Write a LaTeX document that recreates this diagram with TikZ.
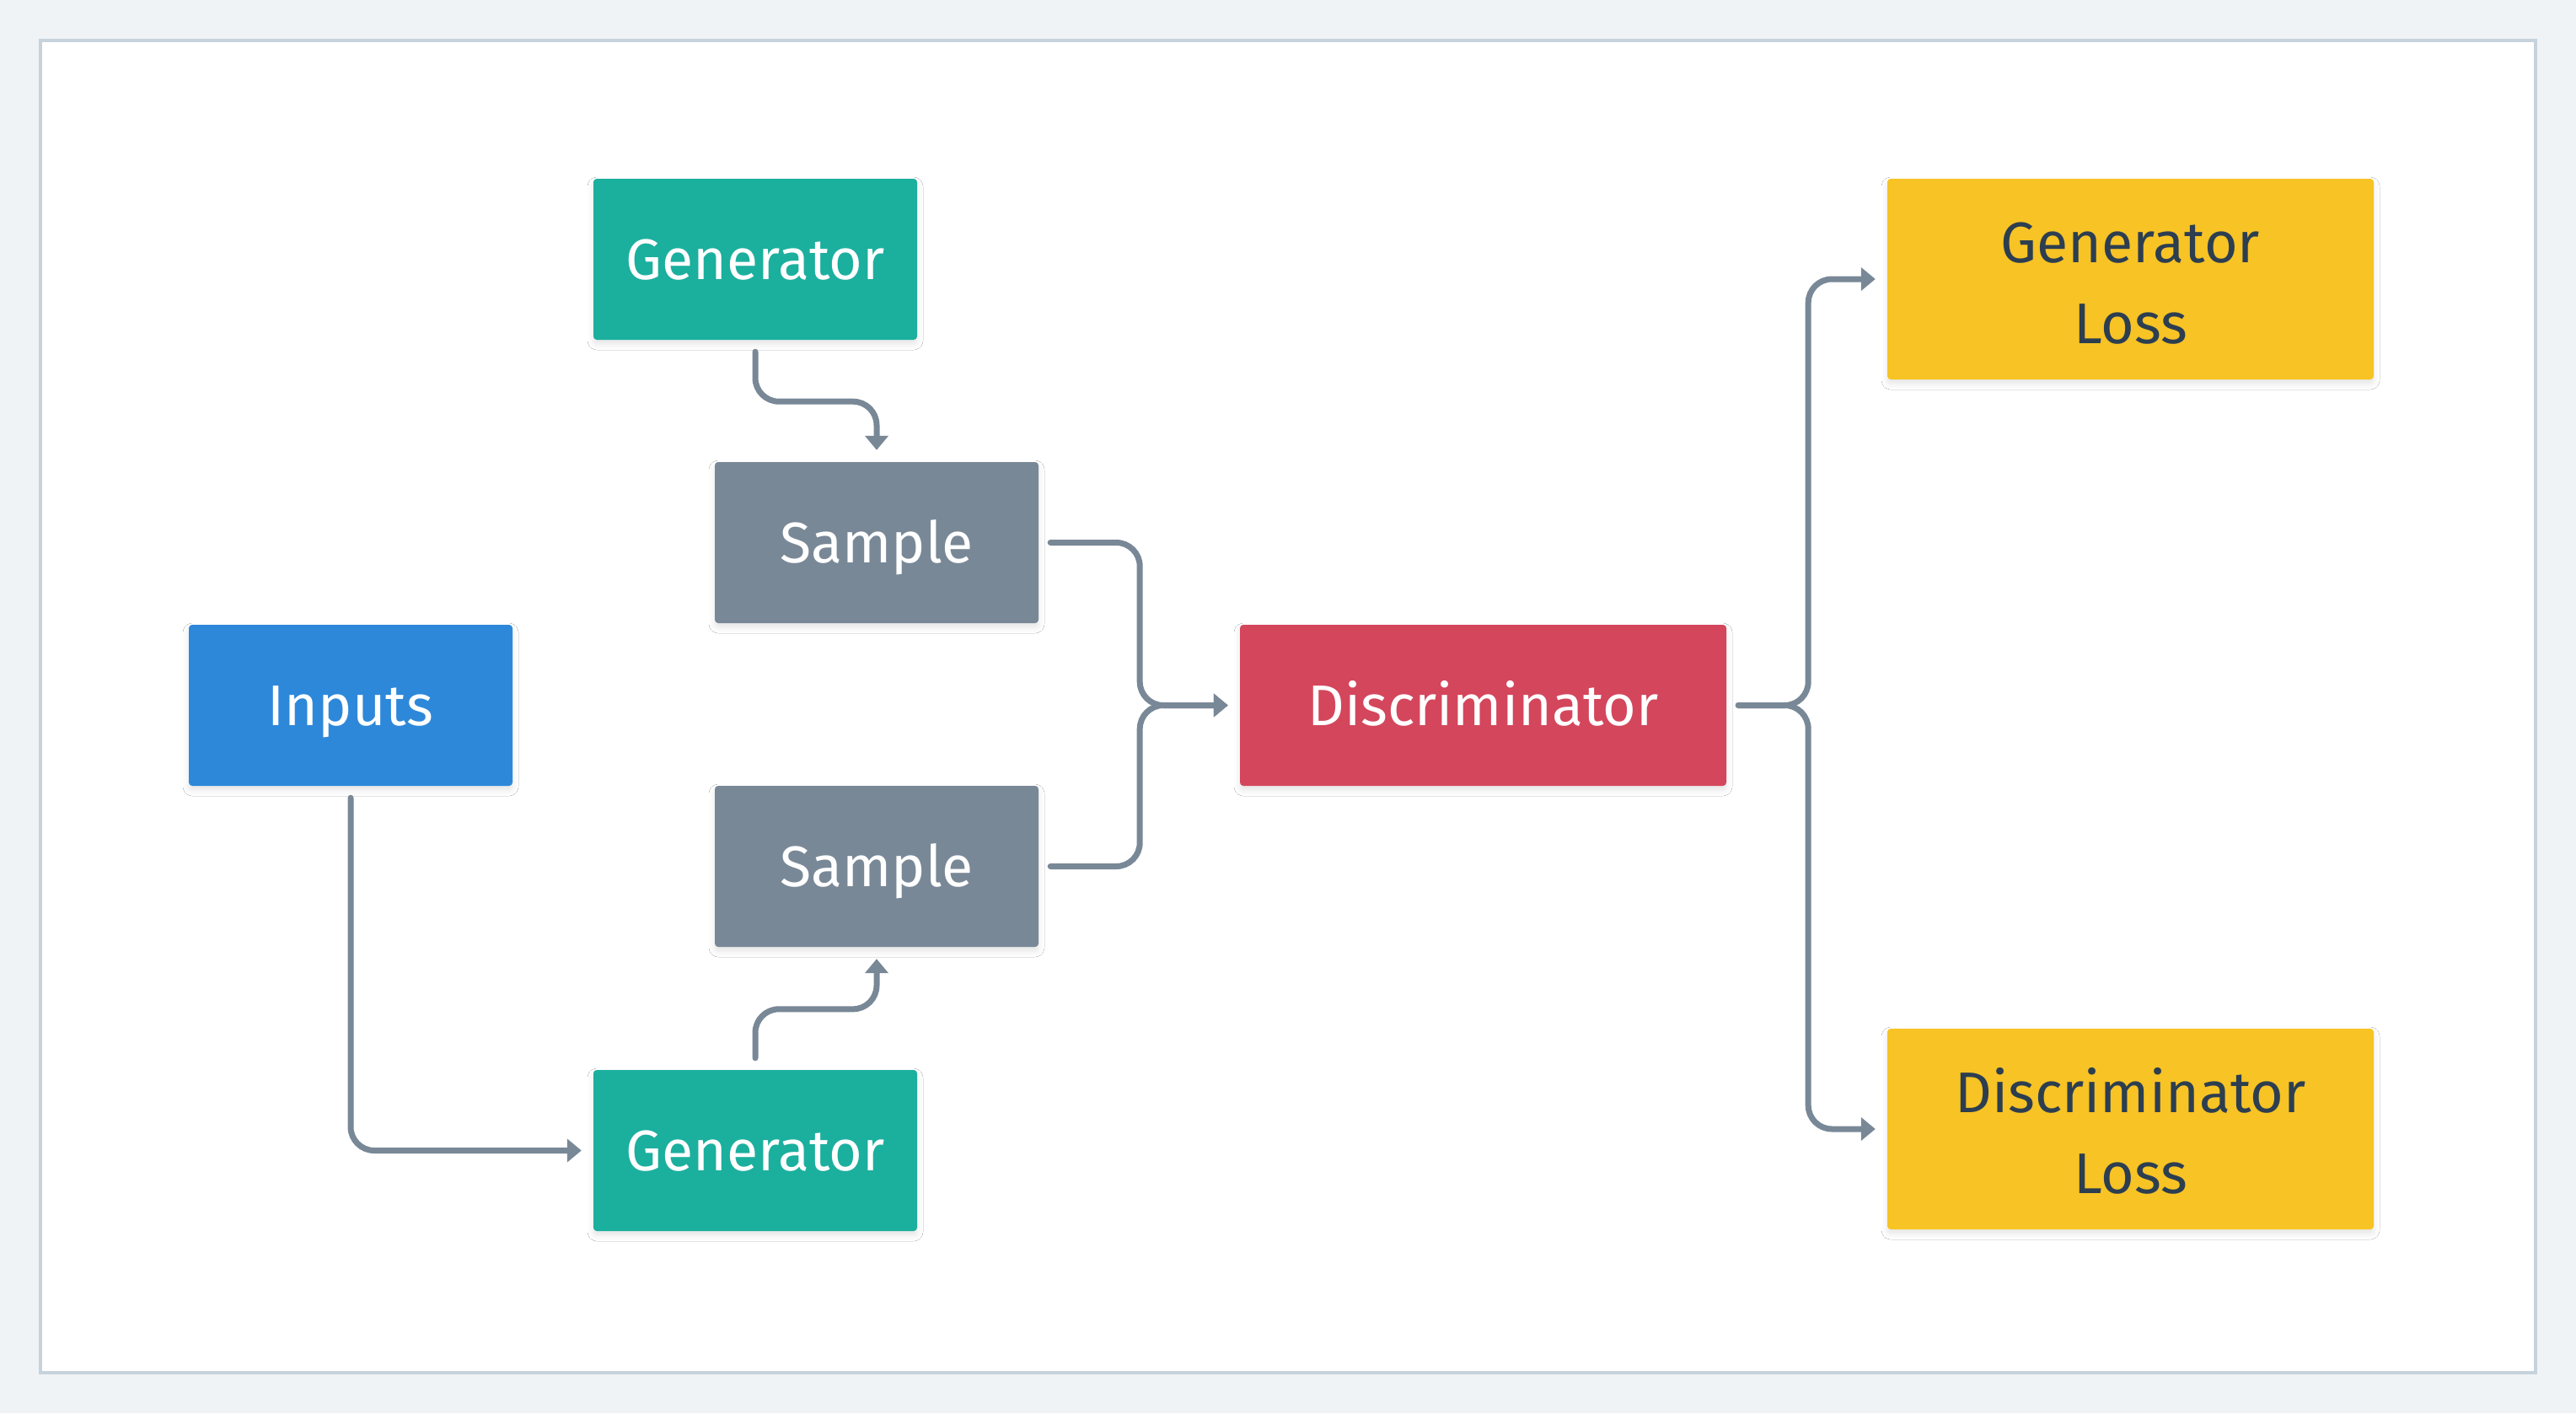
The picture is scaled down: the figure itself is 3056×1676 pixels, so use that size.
\documentclass[tikz,border=0pt]{standalone}
\usepackage{fontspec}
\setmainfont{Fira Sans}
\usetikzlibrary{arrows.meta,shadows.blur}
\definecolor{bgc}{HTML}{EFF3F6}
\definecolor{framec}{HTML}{C6D2DC}
\definecolor{tealc}{HTML}{1BAF9E}
\definecolor{slatec}{HTML}{798897}
\definecolor{bluec}{HTML}{2D88DA}
\definecolor{redc}{HTML}{D4465C}
\definecolor{yellowc}{HTML}{F7C325}
\definecolor{darktext}{HTML}{2C3E50}
\tikzset{
  basebox/.style={rectangle, rounded corners=4pt, minimum width=384pt, minimum height=191pt,
    inner sep=0pt, text=white, align=center, font=\fontsize{68}{96}\selectfont,
    blur shadow={shadow xshift=0pt, shadow yshift=-5pt, shadow opacity=10, shadow blur radius=7pt}},
  box/.style={basebox, text height=47pt, text depth=0pt},
  genbox/.style={box, fill=tealc},
  sampbox/.style={box, fill=slatec},
  inbox/.style={box, fill=bluec},
  discbox/.style={box, fill=redc, minimum width=577pt},
  lossbox/.style={basebox, fill=yellowc, text=darktext, minimum width=577pt, minimum height=238pt},
  conn/.style={draw=slatec, line width=7pt, line cap=round, rounded corners=28pt,
    -{Triangle[length=17pt,width=27pt]}}
}
\begin{document}
\begin{tikzpicture}[x=1pt,y=-1pt]
\fill[bgc] (0,0) rectangle (3056,1676);
\useasboundingbox (0,0) rectangle (3056,1676);
\draw[framec, fill=white, line width=4pt] (48,48) rectangle (3008,1628);

\node[genbox] (gen1) at (896,307.5) {Generator};
\node[sampbox] (samp1) at (1040,643.5) {Sample};
\node[inbox] (inputs) at (416,836.5) {Inputs};
\node[sampbox] (samp2) at (1040,1027.5) {Sample};
\node[genbox] (gen2) at (896,1364.5) {Generator};
\node[discbox] (disc) at (1759.5,836.5) {Discriminator};
\node[lossbox] (gloss) at (2527.5,331) {\rule{0pt}{57pt}Generator\\Loss};
\node[lossbox] (dloss) at (2527.5,1339) {\rule{0pt}{57pt}Discriminator\\Loss};

\draw[conn] ([yshift=-14pt]gen1.south) -- ++(0,59) -| ([yshift=14pt]samp1.north);
\draw[conn] ([yshift=14pt]gen2.north) -- ++(0,-58) -| ([yshift=-14pt]samp2.south);
\draw[conn] ([yshift=-14pt]inputs.south) |- ([xshift=-14pt]gen2.west);
\draw[conn] ([xshift=14pt]samp1.east) -- ++(106,0) |- ([xshift=-14pt]disc.west);
\draw[conn] ([xshift=14pt]samp2.east) -- ++(106,0) |- ([xshift=-14pt]disc.west);
\draw[conn] ([xshift=14pt]disc.east) -- ++(83,0) |- ([xshift=-14pt]gloss.west);
\draw[conn] ([xshift=14pt]disc.east) -- ++(83,0) |- ([xshift=-14pt]dloss.west);
\end{tikzpicture}
\end{document}
